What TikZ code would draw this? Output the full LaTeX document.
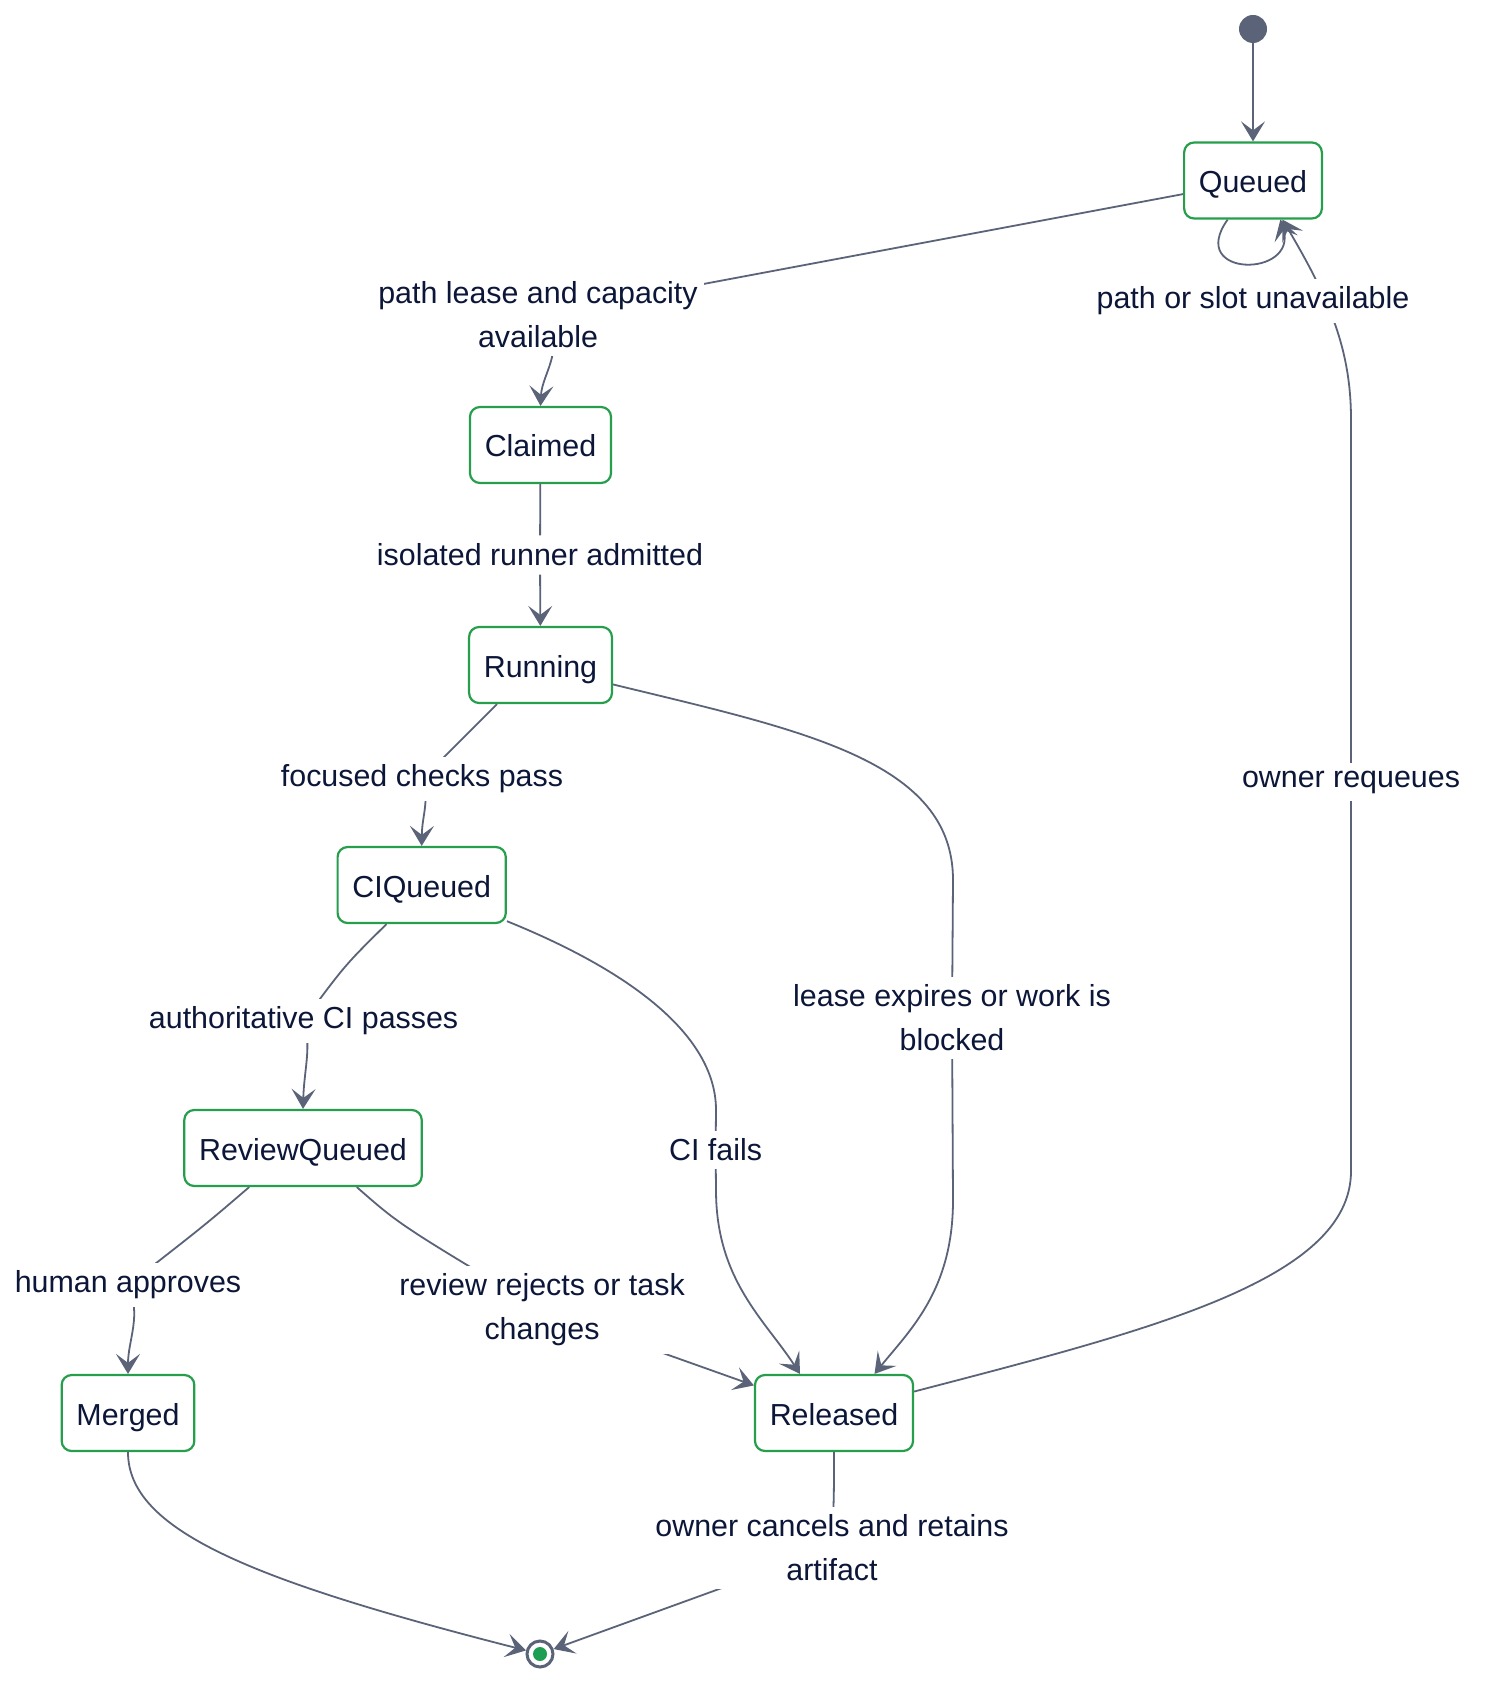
\documentclass[tikz,border=0pt]{standalone}
\usepackage{fontspec}
\setmainfont{Liberation Sans}
\usetikzlibrary{arrows.meta,backgrounds}

\definecolor{edgegray}{RGB}{90,99,120}
\definecolor{stategreen}{RGB}{38,158,76}
\definecolor{textnavy}{RGB}{12,22,56}
\definecolor{enddot}{RGB}{30,158,82}

\tikzset{
  state/.style={draw=stategreen, line width=1.1pt, rounded corners=5pt, fill=white,
    inner xsep=7.4pt, minimum height=38pt, text height=12pt, text depth=0pt,
    text=textnavy, font=\fontsize{15.2}{18}\selectfont},
  lbl/.style={fill=white, inner xsep=3pt, inner ysep=4pt, align=center, text=textnavy,
    font=\fontsize{15.2}{22}\selectfont},
  trans/.style={draw=edgegray, line width=0.9pt, -{Stealth[length=10pt,width=12pt,inset=4.5pt]}},
}

\begin{document}
\begin{tikzpicture}[x=0.5pt,y=-0.5pt]
\useasboundingbox (0,0) rectangle (1492,1700);

% Start / end markers
\node[circle, fill=edgegray, minimum size=14pt, inner sep=0pt] (Start) at (1253,29) {};
\node[circle, draw=edgegray, line width=1.5pt, fill=white, minimum size=13pt, inner sep=0pt] (End) at (540,1654) {};
\node[circle, fill=enddot, minimum size=7pt, inner sep=0pt] (EndDot) at (End) {};

% State Nodes
\node[state] (Queued) at (1253,180.5) {Queued};
\node[state] (Claimed) at (540.5,445) {Claimed};
\node[state] (Running) at (540.5,665) {Running};
\node[state] (CIQueued) at (421.7,885) {CIQueued};
\node[state] (ReviewQueued) at (303,1148) {ReviewQueued};
\node[state] (Merged) at (128,1413) {Merged};
\node[state] (Released) at (834,1413) {Released};

% Text Nodes
\node[lbl] (lLease) at (538,315) {path lease and capacity\\available};
\node[lbl] (lSlot) at (1253,301) {path or slot unavailable};
\node[lbl] (lRunner) at (540,555) {isolated runner admitted};
\node[lbl] (lFocus) at (422,779) {focused checks pass};
\node[lbl] (lRequeue) at (1351,782) {owner requeues};
\node[lbl] (lExpire) at (952,1018) {lease expires or work is\\blocked};
\node[lbl] (lCIpass) at (303.6,1021) {authoritative CI passes};
\node[lbl] (lCIfail) at (715.6,1150) {CI fails};
\node[lbl] (lHuman) at (128,1285) {human approves};
\node[lbl] (lReject) at (542,1310) {review rejects or task\\changes};
\node[lbl] (lCancel) at (832,1548) {owner cancels and retains\\artifact};

% Curve Lines
\begin{scope}[on background layer]
\draw[trans] (Start) -- (Queued);
\draw[trans] (Queued.191) -- (lLease.center) .. controls (570,345) and (542,372) .. (Claimed.north);
\draw[trans] (Queued.237) .. controls (1186,278) and (1298,278) .. (Queued.305);
\draw[trans] (Released.15) .. controls (1150,1330) and (1351,1280) .. (1351,1171) -- (lRequeue.center)
  -- (1351,420) .. controls (1351,350) and (1330,300) .. (Queued.307);
\draw[trans] (Claimed) -- (lRunner) -- (Running);
\draw[trans] (Running.222) -- (lFocus.center) .. controls (430,800) and (422,815) .. (CIQueued.north);
\draw[trans] (Running.345) .. controls (800,730) and (953,760) .. (953,880) -- (lExpire.center)
  -- (953,1200) .. controls (953,1290) and (910,1330) .. (Released.44);
\draw[trans] (CIQueued.228) .. controls (345,965) .. (lCIpass.center) .. controls (312,1045) and (304,1070) .. (ReviewQueued.north);
\draw[trans] (CIQueued.337) .. controls (640,975) and (716,1040) .. (716,1110) -- (lCIfail.center)
  -- (716,1190) .. controls (716,1280) and (765,1320) .. (Released.131);
\draw[trans] (ReviewQueued.216) .. controls (205,1225) .. (lHuman.center) .. controls (142,1315) and (128,1340) .. (Merged.north);
\draw[trans] (ReviewQueued.324) .. controls (400,1225) .. (lReject.center) -- (Released.161);
\draw[trans] (Merged.south) .. controls (128,1530) and (250,1580) .. (End);
\draw[trans] (Released.south) .. controls (834,1495) .. (lCancel.center) -- (End);
\end{scope}

\end{tikzpicture}
\end{document}
